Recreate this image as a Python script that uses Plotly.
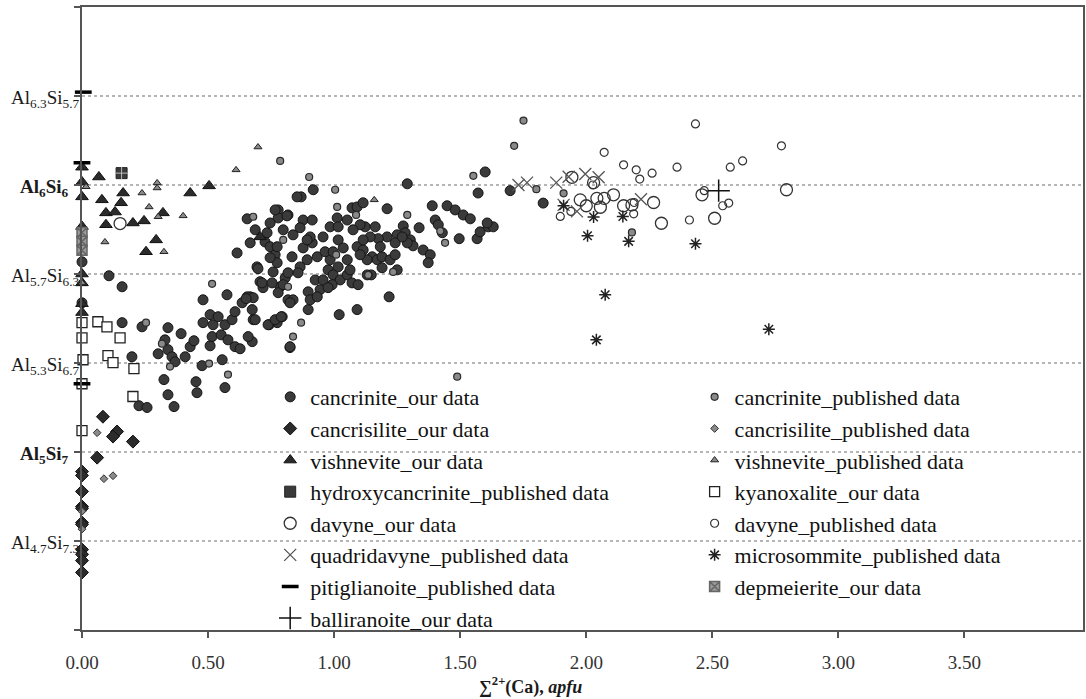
import plotly.graph_objects as go

# ---------------- data ----------------
cancrinite_our_x = [0.917,0.869,1.290,1.599,1.571,0.778,0.778,0.817,0.877,0.913,1.012,1.052,1.071,1.091,1.115,1.210,1.389,1.448,1.480,1.512,1.540,1.401,1.413,1.429,1.337,1.274,1.282,1.302,1.313,1.250,1.242,1.210,1.175,1.143,1.123,1.103,1.075,1.091,1.115,1.151,1.171,1.190,1.222,1.242,1.250,1.190,1.147,1.131,1.353,1.381,1.373,1.496,1.567,1.579,1.611,1.631,1.607,1.218,1.091,1.020,0.825,0.897,0.774,0.742,0.794,0.679,0.675,0.667,0.694,0.726,0.746,0.766,0.774,0.758,0.706,0.718,0.786,0.806,0.817,0.837,0.833,0.865,0.857,0.893,0.877,0.913,0.905,0.933,0.925,0.897,0.905,0.944,0.956,0.976,0.984,0.964,0.996,1.016,1.036,1.052,1.016,0.996,1.024,1.052,1.063,1.071,1.095,0.992,0.976,0.933,1.115,1.131,1.103,0.837,0.734,0.687,0.667,0.746,0.798,0.865,0.893,0.956,0.984,1.016,1.163,1.183,1.290,1.270,1.698,1.829,
    0.107,0.159,0.159,0.238,0.198,0.226,0.258,0.341,0.393,0.329,0.302,0.341,0.357,0.369,0.409,0.429,0.444,0.325,0.341,0.365,0.452,0.456,0.476,0.556,0.567,0.508,0.516,0.552,0.579,0.607,0.627,0.659,0.480,0.508,0.520,0.480,0.575,0.540,0.567,0.595,0.607,0.635,0.655,0.679,0.675,0.687,0.738,0.766,0.790,0.825,0.825,0.714,0.754,0.778,0.798,0.817,
    0.0,0.0,0.615,0.655,0.853,0.766,0.813,0.651,0.698,0.746,0.774]
cancrinite_our_y = [5.984,5.960,6.004,6.044,5.973,5.916,5.889,5.899,5.882,5.882,5.889,5.882,5.923,5.926,5.940,5.920,5.930,5.930,5.916,5.899,5.886,5.882,5.866,5.839,5.856,5.862,5.839,5.815,5.795,5.832,5.805,5.825,5.819,5.825,5.859,5.866,5.849,5.792,5.781,5.758,5.748,5.758,5.748,5.765,5.714,5.721,5.697,5.697,5.781,5.765,5.738,5.819,5.819,5.842,5.859,5.859,5.872,5.623,5.580,5.563,5.452,5.580,5.536,5.529,5.556,5.546,5.472,5.623,5.724,5.808,5.792,5.765,5.738,5.707,5.674,5.654,5.657,5.687,5.613,5.613,5.758,5.724,5.704,5.748,5.788,5.805,5.825,5.758,5.680,5.640,5.613,5.647,5.680,5.714,5.748,5.775,5.775,5.815,5.788,5.748,5.724,5.697,5.680,5.697,5.714,5.670,5.664,5.664,5.654,5.623,5.815,5.748,5.765,5.832,5.839,5.849,5.805,5.872,5.849,5.856,5.815,5.825,5.859,5.859,5.859,5.792,5.805,5.825,5.981,5.939,
    5.694,5.657,5.536,5.522,5.421,5.256,5.250,5.519,5.499,5.478,5.431,5.445,5.421,5.404,5.421,5.455,5.475,5.344,5.293,5.253,5.337,5.300,5.391,5.411,5.317,5.458,5.489,5.495,5.478,5.455,5.448,5.489,5.536,5.563,5.529,5.613,5.630,5.556,5.529,5.546,5.573,5.603,5.623,5.620,5.580,5.546,5.529,5.546,5.556,5.455,5.603,5.670,5.670,5.637,5.664,5.704,
    5.741,5.603,5.771,5.886,5.960,5.916,5.896,5.617,5.718,5.755,5.792]

cancrinite_pub_x = [0.786,0.901,1.004,1.012,1.087,1.290,1.552,1.421,1.440,1.234,1.135,0.837,0.869,0.679,0.798,0.817,1.008,0.254,0.317,0.349,0.504,0.579,0.516,1.488,1.751,1.714,1.802,1.910,2.181]
cancrinite_pub_y = [6.081,6.027,5.984,5.926,5.899,5.899,6.031,5.845,5.805,5.707,5.697,5.489,5.536,5.893,5.815,5.657,5.765,5.536,5.465,5.388,5.398,5.361,5.667,5.354,6.217,6.132,5.986,5.972,5.840]

cancrisilite_our_x = [0.083,0.139,0.123,0.202,0.060,0.0,0.0,0.0,0.0,0.0,0.0,0.0,0.0,0.0,0.0,0.0]
cancrisilite_our_y = [5.219,5.169,5.152,5.135,5.081,5.034,5.021,4.967,4.916,4.910,4.862,4.856,4.771,4.755,4.734,4.694]

cancrisilite_pub_x = [0.060,0.087,0.123,0.0,0.0]
cancrisilite_pub_y = [5.165,5.010,5.020,4.900,4.840]

vishnevite_our_x = [0.0,0.0,0.0,0.0,0.0,0.0,0.0,0.0,0.067,0.079,0.095,0.095,0.131,0.155,0.163,0.202,0.246,0.321,0.294,0.254,0.429,0.504,0.706]
vishnevite_our_y = [6.060,6.010,5.960,5.860,5.700,5.670,5.600,5.570,6.027,5.950,5.906,5.866,5.909,5.940,5.973,5.872,5.879,5.906,5.815,5.775,5.973,5.997,5.825]

vishnevite_pub_x = [0.698,0.611,0.298,0.298,0.238,0.266,0.401,0.302,0.091,0.325,0.016,1.159,0.0]
vishnevite_pub_y = [6.128,6.051,6.007,5.990,5.973,5.926,5.896,5.893,5.808,5.775,5.994,5.950,5.670]

hydroxycancrinite_pub_x = [0.157]
hydroxycancrinite_pub_y = [6.040]

kyanoxalite_our_x = [0.0,0.0,0.004,0.0,0.0,0.063,0.099,0.151,0.103,0.123,0.206,0.202]
kyanoxalite_our_y = [5.536,5.485,5.411,5.330,5.172,5.539,5.522,5.485,5.425,5.401,5.381,5.287]

davyne_our_x = [0.151,1.976,2.042,2.071,2.108,2.056,2.148,2.181,2.267,2.298,1.943,2.029,2.459,2.509,2.794,2.000]
davyne_our_y = [5.870,5.950,5.955,5.955,5.967,5.925,5.930,5.933,5.941,5.871,6.026,6.008,5.967,5.888,5.984,5.930]

davyne_pub_x = [2.433,2.071,2.148,2.198,2.261,2.212,2.360,2.571,2.620,2.774,1.897,1.939,2.188,2.409,2.541,2.565,2.468,2.026,2.190]
davyne_pub_y = [6.206,6.110,6.068,6.051,6.040,6.020,6.060,6.060,6.081,6.132,5.894,5.911,5.903,5.882,5.930,5.939,5.981,6.000,5.941]

quadridavyne_pub_x = [1.731,1.765,1.881,1.930,1.996,2.049,2.217,1.910,1.963]
quadridavyne_pub_y = [6.000,6.008,6.008,6.028,6.037,6.026,5.952,5.933,5.911]

microsommite_pub_x = [2.005,2.168,2.433,2.075,2.040,2.724,1.910,2.029,2.145]
microsommite_pub_y = [5.829,5.810,5.802,5.630,5.478,5.514,5.930,5.892,5.894]

pitiglianoite_pub_x = [0.005,0.0,0.0]
pitiglianoite_pub_y = [6.313,6.075,5.330]

depmeierite_our_x = [0.0,0.0,0.0]
depmeierite_our_y = [5.840,5.810,5.780]

balliranoite_our_x = [2.525]
balliranoite_our_y = [5.981]

y_tick_vals = [6.3, 6.0, 5.7, 5.4, 5.1, 4.8]
y_tick_text = ["Al<sub>6.3</sub>Si<sub>5.7</sub>", "<b>Al<sub>6</sub>Si<sub>6</sub></b>",
               "Al<sub>5.7</sub>Si<sub>6.3</sub>", "Al<sub>5.3</sub>Si<sub>6.7</sub>",
               "<b>Al<sub>5</sub>Si<sub>7</sub></b>", "Al<sub>4.7</sub>Si<sub>7.3</sub>"]
x_tick_vals = [0.0, 0.5, 1.0, 1.5, 2.0, 2.5, 3.0, 3.5]
x_tick_text = ["0.00", "0.50", "1.00", "1.50", "2.00", "2.50", "3.00", "3.50"]

# ---------------- figure ----------------
SERIF = "Liberation Serif, Times New Roman, serif"
fig = go.Figure()

def add(name, xs, ys, symbol, size, color, lcolor, lwidth, legend="legend"):
    fig.add_trace(go.Scatter(
        x=xs, y=ys, mode="markers", name=name, legend=legend,
        cliponaxis=False,
        marker=dict(symbol=symbol, size=size, color=color,
                    line=dict(color=lcolor, width=lwidth))))

add("cancrinite_our data", cancrinite_our_x, cancrinite_our_y, "circle", 10, "#3a3a3a", "#151515", 1)
add("cancrinite_published data", cancrinite_pub_x, cancrinite_pub_y, "circle", 7, "#8a8a8a", "#2a2a2a", 1.2, "legend2")
add("cancrisilite_our data", cancrisilite_our_x, cancrisilite_our_y, "diamond", 10, "#2b2b2b", "#111111", 1)
add("cancrisilite_published data", cancrisilite_pub_x, cancrisilite_pub_y, "diamond", 6, "#8a8a8a", "#333333", 1, "legend2")
add("vishnevite_our data", vishnevite_our_x, vishnevite_our_y, "triangle-up", 11, "#2b2b2b", "#111111", 1)
add("vishnevite_published data", vishnevite_pub_x, vishnevite_pub_y, "triangle-up", 7, "#8a8a8a", "#222222", 1, "legend2")
add("hydroxycancrinite_published data", hydroxycancrinite_pub_x, hydroxycancrinite_pub_y, "square", 11, "#3a3a3a", "#222222", 1)
add("kyanoxalite_our data", kyanoxalite_our_x, kyanoxalite_our_y, "square", 10, "white", "#222222", 1.3, "legend2")
add("davyne_our data", davyne_our_x, davyne_our_y, "circle-open", 12, "#333333", "#333333", 1.3)
add("davyne_published data", davyne_pub_x, davyne_pub_y, "circle-open", 8, "#333333", "#333333", 1.2, "legend2")
add("quadridavyne_published data", quadridavyne_pub_x, quadridavyne_pub_y, "x-thin", 12, "#555555", "#555555", 1.3)
add("microsommite_published data", microsommite_pub_x, microsommite_pub_y, "asterisk", 10, "#222222", "#222222", 1.5, "legend2")
add("pitiglianoite_published data", pitiglianoite_pub_x, pitiglianoite_pub_y, "line-ew", 12, "#000000", "#000000", 3.5)
add("depmeierite_our data", depmeierite_our_x, depmeierite_our_y, "square-x", 10, "#9a9a9a", "#666666", 1.5, "legend2")
add("balliranoite_our data", balliranoite_our_x, balliranoite_our_y, "cross-thin", 16, "#111111", "#111111", 1.5)
# grid pattern on the hydroxycancrinite marker
fig.add_trace(go.Scatter(x=hydroxycancrinite_pub_x, y=hydroxycancrinite_pub_y, mode="markers",
                         showlegend=False, cliponaxis=False, hoverinfo="skip",
                         marker=dict(symbol="cross-thin", size=9, color="#bbbbbb",
                                     line=dict(color="#bbbbbb", width=1))))

annotations = []
for v, t in zip(y_tick_vals, y_tick_text):
    annotations.append(dict(x=-0.037, xref="paper", y=v, yref="y", text=t, showarrow=False,
                            xanchor="center", yanchor="middle", yshift=-3,
                            font=dict(family=SERIF, size=19, color="#1a1a1a")))
annotations.append(dict(x=0.395, xref="paper", y=-0.090, yref="paper",
                        text="<b>\u2211<sup>2+</sup>(Ca), <i>apfu</i></b>", showarrow=False,
                        xanchor="left", yanchor="middle",
                        font=dict(family=SERIF, size=18, color="#1a1a1a")))

legend_common = dict(orientation="v", yanchor="top", xanchor="left",
                     bgcolor="rgba(0,0,0,0)", borderwidth=0, tracegroupgap=0,
                     font=dict(family=SERIF, size=22, color="#111111"),
                     itemsizing="trace", traceorder="normal")

fig.update_layout(
    width=1086, height=699,
    margin=dict(l=82, r=3, t=7, b=69, autoexpand=False),
    paper_bgcolor="white", plot_bgcolor="white",
    font=dict(family=SERIF, color="#222222"),
    annotations=annotations,
    legend=dict(x=0.188, y=0.4076, **legend_common),
    legend2=dict(x=0.612, y=0.4076, **legend_common),
)
fig.update_xaxes(range=[0, 3.97], tickvals=x_tick_vals, ticktext=x_tick_text,
                 showgrid=False, zeroline=False, automargin=False,
                 showline=True, linecolor="#555555", linewidth=1.5, mirror=True,
                 ticks="outside", ticklen=6, tickcolor="#555555", tickwidth=1.5,
                 ticklabelstandoff=8,
                 tickfont=dict(family=SERIF, size=19, color="#333333"))
fig.update_yaxes(range=[4.5, 6.6], tickvals=[4.5, 4.8, 5.1, 5.4, 5.7, 6.0, 6.3, 6.6],
                 showticklabels=False, zeroline=False, automargin=False,
                 showgrid=True, gridcolor="#b5b5b5", griddash="dot", gridwidth=1.5,
                 showline=True, linecolor="#555555", linewidth=1.5, mirror=True,
                 ticks="outside", ticklen=6, tickcolor="#555555", tickwidth=1.5)

fig.write_html("out.html", config={"displayModeBar": False},
               post_script="document.body.style.margin='0';document.body.style.overflow='hidden';")
